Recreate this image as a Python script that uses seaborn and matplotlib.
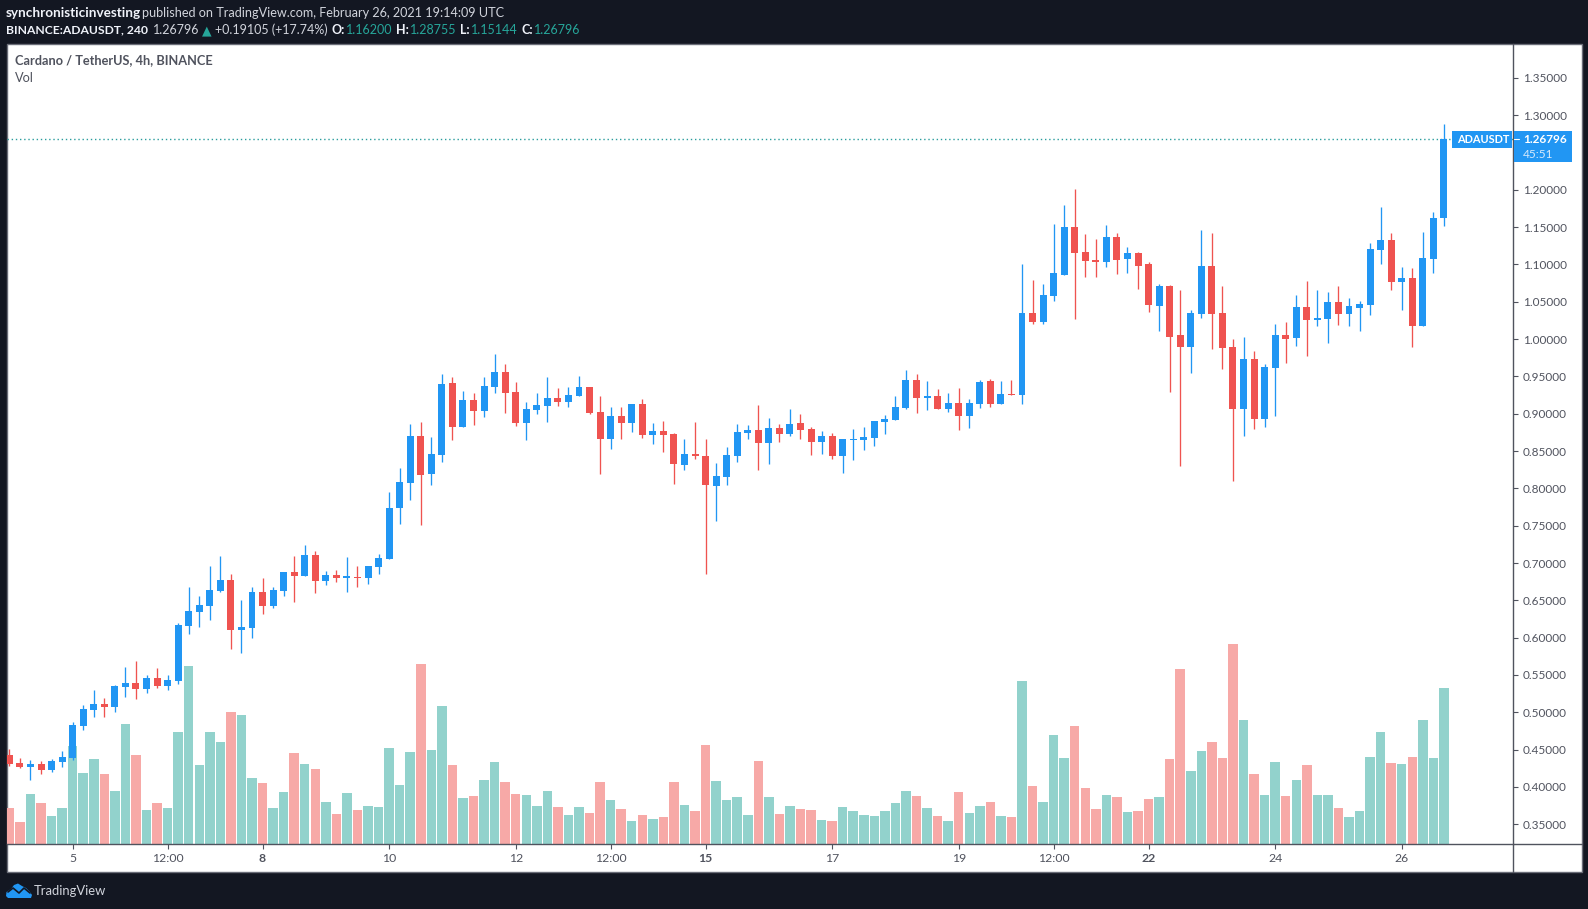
import matplotlib
matplotlib.use("Agg")
import matplotlib.pyplot as plt
from matplotlib.patches import Rectangle, Polygon
from matplotlib.lines import Line2D
import pandas as pd
import seaborn as sns

opens = [.4429,.4322,.4268,.4308,.4228,.4335,.4389,.4818,.5032,.5112,
         .5072,.5340,.5394,.5313,.5461,.5353,.5420,.6157,.6345,.6425,
         .6626,.6773,.6104,.6130,.6613,.6425,.6626,.6880,.6827,.7108,
         .6760,.6840,.6800,.6813,.6800,.6947,.7055,.7738,.8073,.8702,
         .8193,.8448,.9412,.8823,.9185,.9037,.9359,.9560,.9292,.8877,
         .9051,.9104,.9211,.9158,.9238,.9359,.9024,.8662,.8970,.8877,
         .9131,.8716,.8769,.8729,.8314,.8461,.8434,.8033,.8153,.8434,
         .8743,.8783,.8609,.8810,.8729,.8877,.8796,.8622,.8702,.8434,
         .8649,.8649,.8676,.8890,.8917,.9077,.9453,.9211,.9238,.9064,
         .9144,.8970,.9131,.9439,.9131,.9265,.9252,1.0350,1.0229,1.0578,
         1.0859,1.1502,1.1167,1.1060,1.1033,1.1368,1.1073,1.1154,1.1006,1.0444,
         1.0712,1.0055,.9895,1.0337,1.0980,1.0350,.9895,.9064,.9734,.8930,
         .9613,1.0055,1.0015,1.0430,1.0256,1.0270,1.0497,1.0337,1.0417,1.0457,
         1.1194,1.1328,1.0765,1.0819,1.0176,1.1073,1.1620]
closes = [.4308,.4268,.4308,.4228,.4349,.4402,.4831,.5045,.5112,.5072,
          .5353,.5394,.5313,.5461,.5353,.5434,.6170,.6358,.6438,.6639,
          .6773,.6104,.6144,.6613,.6425,.6639,.6880,.6827,.7108,.6760,
          .6840,.6800,.6827,.6800,.6961,.7068,.7738,.8086,.8702,.8180,
          .8461,.9399,.8823,.9185,.9037,.9372,.9560,.9278,.8877,.9064,
          .9118,.9211,.9158,.9252,.9359,.9010,.8662,.8970,.8877,.9131,
          .8716,.8769,.8716,.8327,.8461,.8434,.8046,.8167,.8448,.8756,
          .8783,.8609,.8810,.8729,.8863,.8783,.8622,.8702,.8434,.8662,
          .8662,.8689,.8903,.8930,.9091,.9453,.9211,.9238,.9064,.9144,
          .8970,.9144,.9426,.9131,.9265,.9252,1.0350,1.0229,1.0591,1.0886,
          1.1502,1.1154,1.1047,1.1033,1.1368,1.1060,1.1154,1.0980,1.0457,1.0712,
          1.0029,.9895,1.0350,1.0980,1.0337,.9881,.9064,.9734,.8930,.9627,
          1.0055,1.0002,1.0430,1.0256,1.0283,1.0497,1.0337,1.0444,1.0471,1.1207,
          1.1328,1.0765,1.0819,1.0176,1.1087,1.1623,1.26796]
highs = [.4509,.4389,.4362,.4349,.4375,.4483,.4871,.5099,.5300,.5193,
         .5367,.5608,.5688,.5501,.5594,.5501,.6197,.6680,.6559,.6961,
         .7095,.6854,.6505,.6680,.6800,.6680,.6880,.7095,.7242,.7162,
         .6894,.6907,.7081,.6961,.6961,.7122,.7952,.8274,.8863,.8890,
         .8689,.9533,.9493,.9305,.9278,.9493,.9801,.9667,.9426,.9158,
         .9278,.9493,.9345,.9359,.9506,.9359,.9238,.9091,.9091,.9131,
         .9198,.8877,.8903,.8743,.8662,.8890,.8662,.8341,.8555,.8863,
         .8850,.9118,.8943,.8863,.9064,.8997,.8823,.8769,.8743,.8662,
         .8796,.8823,.8903,.8984,.9238,.9586,.9533,.9439,.9332,.9278,
         .9345,.9198,.9453,.9466,.9439,.9453,1.1006,1.0792,1.0739,1.1542,
         1.1797,1.2011,1.1408,1.1341,1.1529,1.1422,1.1234,1.1167,1.1033,1.0739,
         1.0725,1.0658,1.0390,1.1462,1.1422,1.0712,1.0002,1.0029,.9841,.9667,
         1.0203,1.0229,1.0591,1.0779,1.0658,1.0631,1.0712,1.0551,1.0511,1.1288,
         1.1770,1.1422,1.0966,1.0953,1.1435,1.1703,1.28755]
lows = [.4282,.4255,.4094,.4174,.4201,.4268,.4362,.4764,.4938,.4938,
        .5005,.5206,.5179,.5260,.5327,.5300,.5380,.6050,.6144,.6237,
        .6613,.5849,.5795,.5996,.6318,.6398,.6559,.6479,.6827,.6599,
        .6706,.6747,.6613,.6680,.6720,.6854,.7055,.7524,.7845,.7510,
        .8046,.8354,.8649,.8823,.8850,.8957,.9278,.9010,.8836,.8649,
        .8997,.8890,.9104,.9091,.9238,.8997,.8193,.8528,.8662,.8756,
        .8676,.8595,.8488,.8059,.8247,.8394,.6854,.7564,.8046,.8354,
        .8662,.8247,.8327,.8622,.8702,.8662,.8448,.8461,.8394,.8207,
        .8381,.8515,.8568,.8729,.8917,.9064,.9010,.9051,.9064,.9024,
        .8783,.8810,.9077,.9091,.9131,.9252,.9131,1.0203,1.0203,1.0511,
        1.0859,1.0270,1.0832,1.0832,1.0966,1.0872,1.0886,1.0672,1.0363,1.0109,
        .9292,.8300,.9546,1.0283,.9868,.9600,.8100,.8702,.8796,.8823,
        .8970,.9680,.9908,.9774,1.0176,.9948,1.0189,1.0176,1.0109,1.0323,
        1.1006,1.0658,1.0390,.9895,1.0176,1.0886,1.15144]
volumes = [36,22,50,41,28,36,98,71,85,70,
           53,120,89,34,41,36,112,178,79,112,
           102,132,129,66,61,36,52,91,80,75,
           42,30,51,34,38,37,96,59,92,180,
           94,138,79,46,48,64,82,62,50,49,
           38,53,37,29,37,31,62,44,35,23,
           29,25,27,62,39,33,99,63,44,47,
           29,83,47,30,38,35,34,24,23,37,
           33,29,28,33,41,53,48,36,28,23,
           52,31,38,42,28,27,163,58,42,109,
           86,118,56,35,49,47,32,33,45,47,
           85,175,73,93,102,86,200,124,70,49,
           82,48,64,79,49,49,36,27,33,87,
           112,81,80,87,124,86,156]
price_ticks = [.35,.40,.45,.50,.55,.60,.65,.70,.75,.80,.85,.90,.95,1.00,1.05,1.10,1.15,1.20,1.30,1.35]
time_tick_bars = [6,15,24,36,48,57,66,78,90,99,108,120,132]
time_tick_labels = ["5","12:00","8","10","12","12:00","15","17","19","12:00","22","24","26"]
bold_time_labels = ["8","15","22"]
last_price = 1.26796

BG = "#131722"; BLUE = "#2196f3"; RED = "#ef5350"
V_UP = "#92d2cc"; V_DOWN = "#f7a9a7"; TXT = "#50535e"; LINE = "#50535e"

sns.set_style("white")
plt.rcParams["font.family"] = ["Lato", "DejaVu Sans"]
W, H = 1588, 909
fig = plt.figure(figsize=(W / 100, H / 100), dpi=100, facecolor=BG)
fx = lambda x: x / W
fy = lambda y: 1 - y / H

# white panel
fig.add_artist(Rectangle((fx(6.7), fy(872)), (1581.7 - 6.7) / W, (872 - 43.5) / H,
                         transform=fig.transFigure, fc="white", ec="#6a6d78", lw=1, zorder=-5))
L, R, T, B = 7.0, 1513.3, 44.0, 844.0
pos = [fx(L), fy(B), (R - L) / W, (B - T) / H]
ax_v = fig.add_axes(pos, facecolor="none")
ax = fig.add_axes(pos, facecolor="none")
xlim = ((L - 9.4) / 10.548, (R - 9.4) / 10.548)

df = pd.DataFrame({"bar": range(len(opens)), "open": opens, "close": closes,
                   "high": highs, "low": lows, "volume": volumes})
df["dir"] = ["up" if c >= o else "down" for o, c in zip(df["open"], df["close"])]

sns.barplot(data=df, x="bar", y="volume", hue="dir", ax=ax_v, native_scale=True,
            dodge=False, width=0.9, gap=0, saturation=1, legend=False, linewidth=0,
            palette={"up": V_UP, "down": V_DOWN})
ax_v.set_xlim(*xlim); ax_v.set_ylim(0, B - T)
ax_v.axis("off")

cols = df["dir"].map({"up": BLUE, "down": RED})
ax.vlines(df["bar"], df["low"], df["high"], colors=cols, lw=0.95, zorder=2)
body_lo = df[["open", "close"]].min(axis=1)
body_h = (df["open"] - df["close"]).abs()
ax.bar(df["bar"], body_h, bottom=body_lo, width=0.66, color=cols, linewidth=0, zorder=3)
ax.axhline(last_price, color="#2a9d9d", lw=1, ls=(0, (1, 2)), zorder=1)

ax.set_xlim(*xlim)
ax.set_ylim(0.35 + (824.3 - B) / 746.5, 0.35 + (824.3 - T) / 746.5)
sns.despine(ax=ax, top=True, left=True, right=False, bottom=False)
for s in ("right", "bottom"):
    ax.spines[s].set_color(LINE); ax.spines[s].set_linewidth(1)
ax.yaxis.tick_right()
ax.set_yticks(price_ticks)
ax.set_yticklabels([f"{t:.5f}" for t in price_ticks])
ax.set_xticks(time_tick_bars)
ax.set_xticklabels(time_tick_labels)
ax.tick_params(axis="y", right=True, length=3.4, width=0.8, color=LINE, labelcolor=TXT,
               labelsize=8.5, pad=3.4)
ax.tick_params(axis="x", bottom=True, length=3.4, width=0.8, color=LINE, labelcolor=TXT,
               labelsize=8.8, pad=3)
ax.set_xlabel(""); ax.set_ylabel("")
for lab in ax.get_xticklabels():
    if lab.get_text() in bold_time_labels:
        lab.set_fontweight("bold")
ax.grid(False)

# axis lines continuing into the corner
fig.add_artist(Line2D([fx(R), fx(1581.7)], [fy(B), fy(B)], color=LINE, lw=1))
fig.add_artist(Line2D([fx(R), fx(R)], [fy(B), fy(872)], color=LINE, lw=1))

# last-price tags
fig.add_artist(Rectangle((fx(1452), fy(147.7)), 59.5 / W, 17 / H, transform=fig.transFigure,
                         fc=BLUE, ec="none", zorder=5))
fig.add_artist(Rectangle((fx(1513.8), fy(161.7)), 58.2 / W, 31 / H, transform=fig.transFigure,
                         fc=BLUE, ec="none", zorder=5))
fig.add_artist(Line2D([fx(1513.8), fx(1518.5)], [fy(139), fy(139)], color="white", lw=0.8, zorder=6))
def t(x, y, s, color, size=8.6, weight="normal", ha="left", **kw):
    return fig.text(fx(x), fy(y), s, color=color, fontsize=size, fontweight=weight,
                    ha=ha, va="center", zorder=7, **kw)
t(1457, 139.5, "ADAUSDT", "white", 7.9, "bold")
t(1523.3, 139.5, "1.26796", "white", 8.5, "bold")
t(1523.3, 154, "45:51", "#d5e9fb", 8.6)

# header
HEAD = "#d1d4dc"; TEAL = "#26a69a"
t(6, 13, "synchronisticinvesting", "#f0f3fa", 9.7, "bold")
t(142, 13, "published on TradingView.com, February 26, 2021 19:14:09 UTC", HEAD, 9.1)
t(6, 30, "BINANCE:ADAUSDT, 240", "#f0f3fa", 8.75, "bold")
t(152.6, 30, "1.26796", HEAD, 9)
t(201.5, 30, "▲", TEAL, 9)
t(215.4, 30, "+0.19105 (+17.74%)", HEAD, 9)
for lx, lab, vx, val in [(332, "O:", 346, "1.16200"), (396, "H:", 410, "1.28755"),
                         (460, "L:", 471, "1.15144"), (522, "C:", 533.6, "1.26796")]:
    t(lx, 30, lab, "#f0f3fa", 9, "bold")
    t(vx, 30, val, TEAL, 9)

# legend
t(15, 60.5, "Cardano / TetherUS, 4h, BINANCE", TXT, 9.2, "bold")
t(15, 77.5, "Vol", TXT, 9.2)

# footer logo
cloud = [(6, 896), (6.5, 892), (11, 889), (14, 885), (18, 883.5), (22, 886), (26, 888), (30, 892), (32, 895), (31, 898), (8, 898)]
fig.add_artist(Polygon([(fx(x), fy(y)) for x, y in cloud], closed=True, transform=fig.transFigure,
                       fc=BLUE, ec="none", zorder=6))
zig = [(8, 892), (13, 888), (19, 893), (24, 888), (30, 893)]
fig.add_artist(Line2D([fx(x) for x, _ in zig], [fy(y) for _, y in zig], color=BG, lw=1.2, zorder=7))
t(34, 891, "TradingView", "#d1d4dc", 9.4)

fig.savefig("out.png", dpi=100, facecolor=BG)
